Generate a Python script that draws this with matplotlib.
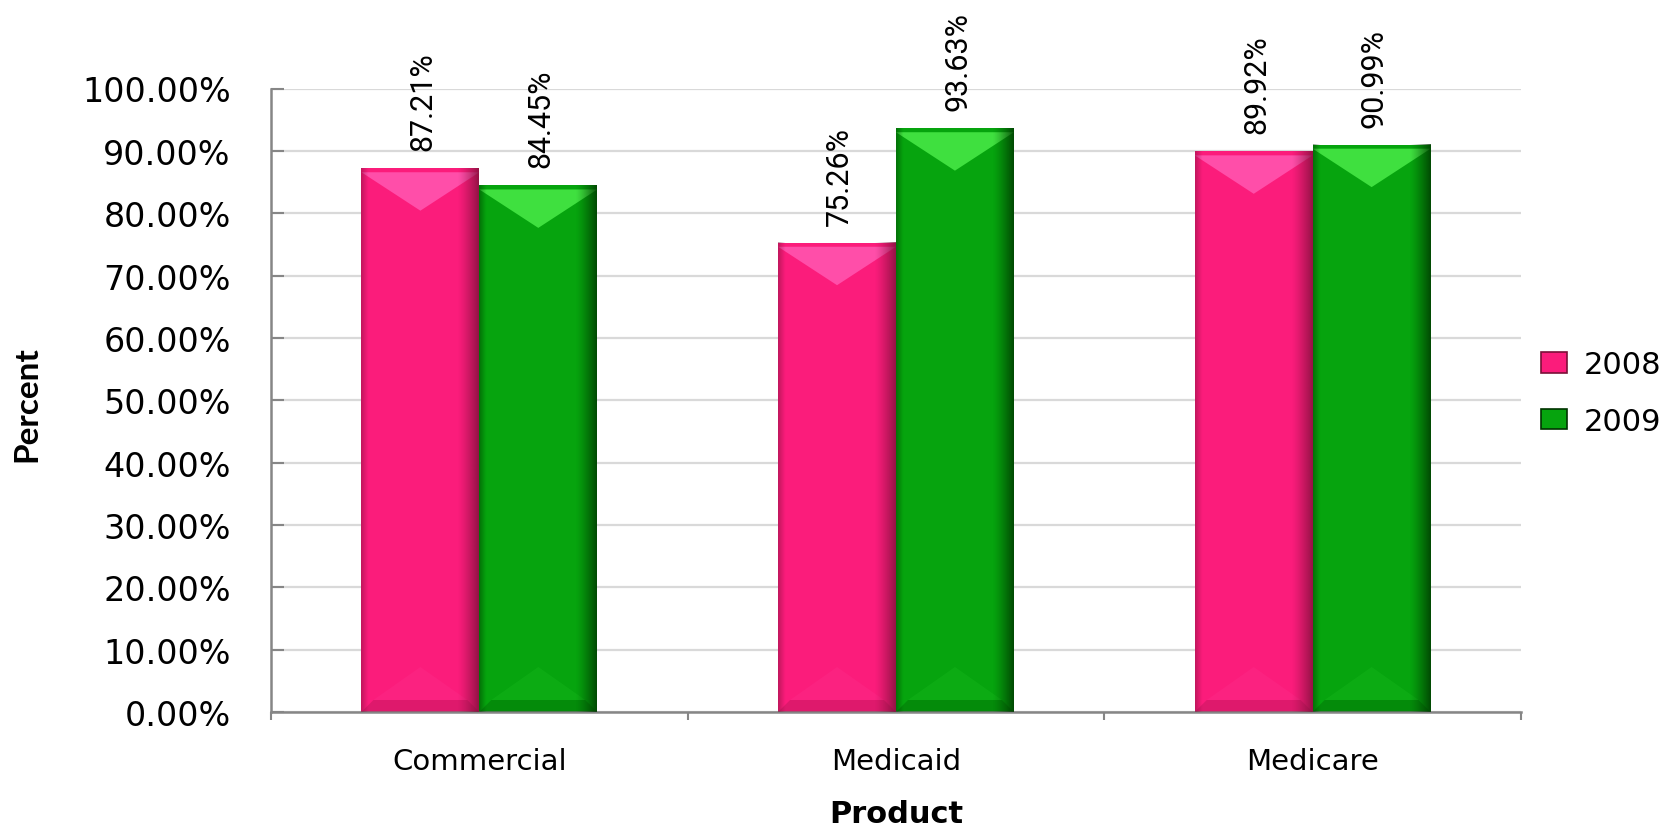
import numpy as np
import matplotlib
matplotlib.use("Agg")
import matplotlib.pyplot as plt
from matplotlib.patches import Rectangle, Polygon
from matplotlib.ticker import PercentFormatter
from matplotlib.colors import to_rgb

products = ["Commercial", "Medicaid", "Medicare"]
years = ["2008", "2009"]
vals_2008 = [0.8721, 0.7526, 0.8992]
vals_2009 = [0.8445, 0.9363, 0.9099]

# body, highlight, dark edge
PINK = ("#fb1c7b", "#ff4ea9", "#7a1038")
GREEN = ("#06a40e", "#3fe03f", "#003300")

W, H = 1674, 828
fig = plt.figure(figsize=(W / 100, H / 100), dpi=100)
ax_l, ax_b, ax_w, ax_h = 271 / W, 115 / H, 1250 / W, 623.5 / H
ax = fig.add_axes([ax_l, ax_b, ax_w, ax_h])
ax.set_xlim(-0.5, 2.5)
ax.set_ylim(0, 1)

# data units per pixel (for bevel shading)
dx_px = 3 / (ax_w * W)
dy_px = 1 / (ax_h * H)

bw = 0.283
x = np.arange(len(products))

def shade_bar(xc, h, cols):
    body, hi, dark = cols
    x0, x1 = xc - bw / 2, xc + bw / 2
    wpx = bw / dx_px
    # top V highlight
    d = 0.36 * wpx * dy_px
    t = 4 * dy_px
    ax.add_patch(Polygon([(x0, h - t), (x1, h - t), (xc, h - d)], closed=True,
                         facecolor=hi, edgecolor="none", zorder=3))
    # bottom bevel
    e = 12
    ex, ey = e * dx_px, e * dy_px
    ax.add_patch(Polygon([(x0 + ex, ey), (x1 - ex, ey), (xc, ey + 0.28 * wpx * dy_px)],
                         closed=True, facecolor=hi, alpha=0.12, edgecolor="none", zorder=3))
    ax.add_patch(Polygon([(x0, 0), (x1, 0), (x1 - ex, ey), (x0 + ex, ey)], closed=True,
                         facecolor=dark, alpha=0.22, edgecolor="none", zorder=3))
    # horizontal side shading
    tt = np.linspace(0, 1, 240)
    a = np.zeros_like(tt)
    a += np.clip((0.06 - tt) / 0.06, 0, 1) * 0.45
    a += np.clip((tt - 0.82) / 0.18, 0, 1) ** 1.3 * 0.8
    rgba = np.zeros((1, tt.size, 4))
    rgba[..., :3] = to_rgb(dark)
    rgba[..., 3] = a
    ax.imshow(rgba, extent=(x0, x1, 0, h), aspect="auto", interpolation="bilinear",
              zorder=4)

for vals, off, cols in [(vals_2008, -bw / 2, PINK), (vals_2009, bw / 2, GREEN)]:
    ax.bar(x + off, vals, bw, color=cols[0], zorder=2, linewidth=0)
    for xi, v in zip(x + off, vals):
        shade_bar(xi, v, cols)
        ax.annotate(f"{v * 100:.2f}%", (xi, v), xytext=(2, 13), textcoords="offset points",
                    rotation=90, ha="center", va="bottom", fontsize=22,
                    family=["Liberation Sans Narrow", "Roboto"], color="black")

ax.set_xlim(-0.5, 2.5)
ax.set_ylim(0, 1)

ax.yaxis.set_major_formatter(PercentFormatter(xmax=1, decimals=2))
ax.set_yticks(np.arange(0, 1.01, 0.1))
ax.yaxis.grid(True, color="#d9d9d9", lw=1.6, zorder=0)
ax.set_axisbelow(True)
ax.tick_params(axis="y", direction="in", length=9.5, width=1.5, color="#868686",
               pad=29, labelsize=24)
ax.set_xticks(x)
ax.set_xticklabels(products)
ax.set_xticks(np.arange(-0.5, 2.6, 1), minor=True)
ax.tick_params(axis="x", which="major", length=0, pad=25, labelsize=21)
ax.tick_params(axis="x", which="minor", direction="out", length=6, width=1.5,
               color="#868686")
for s in ["top", "right"]:
    ax.spines[s].set_visible(False)
for s in ["left", "bottom"]:
    ax.spines[s].set_color("#868686")
    ax.spines[s].set_linewidth(1.8)

fig.text(896 / W, 1 - 815 / H, "Product", ha="center", va="center",
         fontsize=22, fontweight="bold")
fig.text(27 / W, 1 - 404 / H, "Percent", ha="center", va="center", rotation=90,
         fontsize=24, fontweight="bold", family="Lato")

handles = [Rectangle((0, 0), 1, 1, facecolor=c[0], edgecolor=c[2], lw=1.2)
           for c in (PINK, GREEN)]
fig.legend(handles, years, loc="center left", bbox_to_anchor=(1541 / W, 1 - 394 / H),
           frameon=False, fontsize=22, handlelength=0.85, handleheight=0.65,
           handletextpad=0.55, labelspacing=0.9, borderaxespad=0, borderpad=0)

fig.savefig("out.png", dpi=100)
